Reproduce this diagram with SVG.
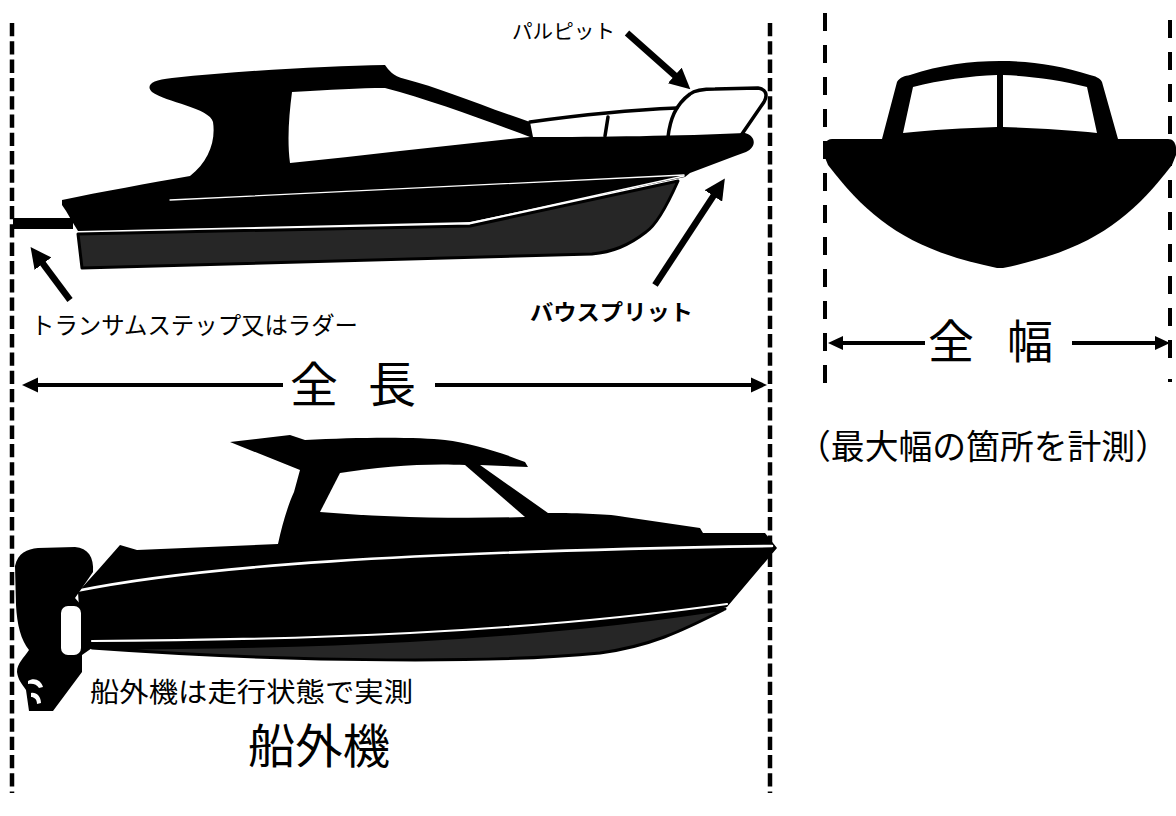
<svg xmlns="http://www.w3.org/2000/svg" width="1176" height="816" viewBox="0 0 1176 816">
<defs>
<style>
.dash{stroke:#000;stroke-width:4.5;fill:none;stroke-dasharray:13.3 5}
.dash2{stroke:#000;stroke-width:4;fill:none;stroke-dasharray:18 14}
.blk{fill:#000}
.gry{fill:#262626;stroke:#000;stroke-width:3;stroke-linejoin:round}
.wl{fill:none;stroke:#fff;stroke-linecap:round}
.rail{fill:none;stroke:#000;stroke-width:3.5;stroke-linecap:round;stroke-linejoin:round}
.arr{stroke:#000;stroke-width:6.5;fill:none}
.dim{stroke:#000;stroke-width:4;fill:none}
.t{font-family:"Noto Sans CJK JP","Noto Sans CJK SC",sans-serif;fill:#000}
</style>
<marker id="ah" viewBox="0 0 10 10" refX="4" refY="5" markerWidth="3.2" markerHeight="3.2" markerUnits="strokeWidth" orient="auto">
<path d="M0,0 L10,5 L0,10 Z" fill="#000"/>
</marker>
</defs>
<rect width="1176" height="816" fill="#fff"/>

<g id="guides">
<line class="dash" x1="12" y1="23" x2="12" y2="793"/>
<line class="dash" x1="770" y1="23" x2="770" y2="793"/>
<line class="dash2" x1="825" y1="13" x2="825" y2="386"/>
<line class="dash2" x1="1170" y1="20" x2="1170" y2="368"/>
<line x1="1170" y1="379" x2="1170" y2="382" stroke="#000" stroke-width="4"/>
</g>

<g id="boat-top">
<rect x="13" y="218" width="60" height="11" class="blk"/>
<path class="gry" d="M78,234 L470,226 L678,181 C666,208 655,226 646,232 C628,246 612,252 592,254 L82,268 Z"/>
<path class="blk" d="M62,200 C100,192 150,183 190,176 C208,162 216,142 213,122 C210,108 165,102 152,92 C146,86 150,80 172,78 C250,70 330,66 385,65 C389,70 392,76 405,79 C440,88 480,105 530,122 L533,137 C600,137 680,136 745,133 C756,136 757,147 746,152 L735,156 L690,173 L685,177 L470,222 L78,231 C72,222 68,213 62,205 Z"/>
<path fill="#fff" d="M292,92 C330,90 360,88 385,88 C430,100 480,118 530,137 C450,145 370,155 290,163 C287,140 289,115 292,92 Z"/>
<path class="wl" stroke-width="1.3" d="M170,200 C350,192 520,183 684,175"/>
<path class="wl" stroke-width="1.5" d="M470,223 L684,176"/>
<path class="rail" d="M530,122 C580,115 630,110 677,108"/>
<path class="rail" d="M608,117 L605,136"/>
<path class="rail" d="M668,137 C670,120 675,105 690,94 C695,90 705,89 715,89 L758,88 C766,89 768,95 764,102 L742,134"/>
</g>

<g id="boat-front">
<path class="blk" d="M882,139 L897,82 C900,77 905,76 910,75 C940,65 970,61 1000,61 C1030,61 1060,65 1090,75 C1095,76 1100,78 1102,82 L1118,139 Z"/>
<path fill="#fff" d="M903,133 L913,87 C940,80 970,76 997,75 L997,127 C965,128 930,130 903,133 Z"/>
<path fill="#fff" d="M1003,75 C1030,76 1060,80 1087,87 L1097,133 C1070,130 1035,128 1003,127 Z"/>
<path class="blk" d="M832,139 L1168,139 C1175,139 1177,146 1176,155 L1172,165 C1130,220 1090,250 1003,268 L997,268 C910,250 870,220 828,165 L824,155 C823,146 825,139 832,139 Z"/>
</g>

<g id="boat-bottom">
<path class="blk" d="M78,592 L98,570 L120,545 L137,550 L278,544 C282,525 288,505 294,492 L300,470 L230,442 L290,435 L305,440 C360,437 420,437 445,440 C470,443 500,452 525,462 L528,467 L480,465 L548,513 C580,513 610,514 625,517 L700,528 L703,533 L765,533 L777,548 L727,607 C650,632 550,642 500,643 L92,648 L82,655 Z"/>
<path fill="#fff" d="M340,473 C380,466 430,463 465,465 L525,517 C450,519 380,517 320,512 Z"/>
<path class="gry" stroke-width="2.5" d="M92,648 C300,648 520,641 725,609 C680,632 650,646 600,653 C500,663 300,663 92,648 Z"/>
<path class="wl" stroke-width="2.2" d="M92,641 C300,640 520,633 727,604"/>
<path class="wl" stroke-width="2.6" d="M76,591 C200,566 400,552 772,546"/>
<path class="blk" d="M15,566 C18,553 27,549 38,548 L75,547 C88,548 94,557 93,572 L82,588 L75,598 L82,606 L82,672 L53,711 L29,711 L26,690 C22,684 18,680 17,672 C17,663 24,658 29,650 C21,640 17,625 16,605 Z"/>
<rect x="61" y="606" width="20" height="49" rx="7" fill="#fff"/>
<path fill="#fff" d="M28,681 C34,677 41,680 43,687 L39,688 C37,684 32,683 28,684 Z"/>
<path fill="#fff" d="M31,693 C36,692 41,696 41,703 L37,704 C37,699 34,697 31,697 Z"/>
</g>

<g id="connectors">
<line class="arr" x1="627" y1="33" x2="681" y2="81" marker-end="url(#ah)"/>
<line class="arr" x1="655" y1="285" x2="718" y2="189" marker-end="url(#ah)"/>
<line class="arr" x1="70" y1="300" x2="38" y2="257" marker-end="url(#ah)"/>
<line class="dim" x1="34" y1="385" x2="283" y2="385"/>
<polygon points="22,385 38,377.5 38,392.5"/>
<line class="dim" x1="435" y1="385" x2="755" y2="385"/>
<polygon points="767,385 751,377.5 751,392.5"/>
<line class="dim" x1="838" y1="343" x2="925" y2="343"/>
<polygon points="828,343 843,336 843,350"/>
<line class="dim" x1="1072" y1="343" x2="1160" y2="343"/>
<polygon points="1170,343 1155,336 1155,350"/>
</g>

<g id="labels">
<text class="t" x="512" y="39" font-size="20" textLength="103" lengthAdjust="spacingAndGlyphs">パルピット</text>
<text class="t" x="530" y="320" font-size="22" font-weight="bold" textLength="163" lengthAdjust="spacingAndGlyphs">バウスプリット</text>
<text class="t" x="31" y="334" font-size="24" textLength="327" lengthAdjust="spacingAndGlyphs">トランサムステップ又はラダー</text>
<text class="t" x="290" y="402" font-size="48" textLength="126" lengthAdjust="spacing">全 長</text>
<text class="t" x="928" y="358" font-size="46" textLength="125" lengthAdjust="spacing">全 幅</text>
<text class="t" x="797" y="459" font-size="34" textLength="372" lengthAdjust="spacingAndGlyphs">（最大幅の箇所を計測）</text>
<text class="t" x="90" y="702" font-size="27" textLength="323" lengthAdjust="spacingAndGlyphs">船外機は走行状態で実測</text>
<text class="t" x="248" y="763" font-size="47" textLength="142" lengthAdjust="spacingAndGlyphs">船外機</text>
</g>
</svg>
